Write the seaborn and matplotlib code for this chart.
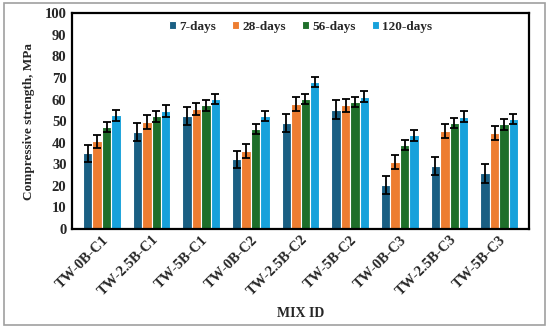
import matplotlib
matplotlib.use("Agg")
import matplotlib.pyplot as plt
import seaborn as sns
import pandas as pd
from matplotlib.patches import Rectangle

mixes = ["TW-0B-C1", "TW-2.5B-C1", "TW-5B-C1", "TW-0B-C2", "TW-2.5B-C2",
         "TW-5B-C2", "TW-0B-C3", "TW-2.5B-C3", "TW-5B-C3"]
ages = ["7-days", "28-days", "56-days", "120-days"]

days7 = [35.0, 45.0, 52.3, 32.3, 49.2, 55.2, 20.3, 29.3, 25.8]
days28 = [40.6, 49.5, 55.6, 36.1, 57.9, 57.3, 31.2, 45.5, 44.4]
days56 = [47.1, 52.2, 57.4, 46.3, 60.2, 58.7, 39.0, 49.1, 48.5]
days120 = [52.6, 54.5, 60.2, 52.2, 68.1, 61.3, 43.4, 52.0, 51.1]

err7 = [4.0, 4.2, 4.3, 4.0, 4.2, 4.4, 4.2, 4.2, 4.4]
err28 = [3.1, 3.3, 2.9, 3.3, 3.1, 3.0, 3.2, 3.3, 3.3]
err56 = [2.3, 2.6, 2.5, 2.5, 2.3, 2.3, 2.3, 2.4, 2.6]
err120 = [2.4, 2.8, 2.3, 2.3, 2.4, 2.6, 2.6, 2.6, 2.3]

colors = ["#1a5f83", "#ed7d31", "#1e6f2a", "#17a1db"]

rows = []
for age, vals, errs in zip(ages, [days7, days28, days56, days120],
                           [err7, err28, err56, err120]):
    for m, v, e in zip(mixes, vals, errs):
        rows.append({"mix": m, "age": age, "strength": v, "err": e})
df = pd.DataFrame(rows)

sns.set_style("white")
plt.rcParams["font.family"] = ["Liberation Serif", "DejaVu Serif"]
plt.rcParams["font.weight"] = "bold"

fig = plt.figure(figsize=(5.5, 3.3), dpi=100)
ax = fig.add_axes([0.131, 0.306, 0.831, 0.654])

sns.barplot(data=df, x="mix", y="strength", hue="age", order=mixes,
            hue_order=ages, palette=colors, width=0.76, errorbar=None,
            edgecolor="white", linewidth=0.8, saturation=1, ax=ax)

# error bars at the bar centres
for container, age in zip(ax.containers, ages):
    sub = df[df["age"] == age].set_index("mix").loc[mixes]
    xs = [p.get_x() + p.get_width() / 2 for p in container.patches]
    ax.errorbar(xs, sub["strength"], yerr=sub["err"], fmt="none",
                ecolor="black", elinewidth=1.3, capsize=2.8, capthick=1.3)

ax.set_ylim(0, 100)
ax.set_yticks(range(0, 101, 10))
ax.set_xlim(-0.6, 8.6)
ax.tick_params(axis="y", labelsize=10.5, length=0, pad=4)
ax.tick_params(axis="x", labelsize=10.5, length=0, pad=3)
plt.setp(ax.get_xticklabels(), rotation=45, ha="right",
         rotation_mode="anchor", fontweight="bold")
plt.setp(ax.get_yticklabels(), fontweight="bold")
for s in ax.spines.values():
    s.set_color("black")
    s.set_linewidth(1.6)

ax.set_xlabel("MIX ID", fontsize=10, fontweight="bold")
ax.xaxis.set_label_coords(0.5, -0.36)
ax.set_ylabel("Compressive strength, MPa", fontsize=9.5, fontweight="bold",
              labelpad=7)

ax.legend(loc="upper center", bbox_to_anchor=(0.5, 1.02), ncol=4,
          frameon=False, fontsize=9.5, handlelength=0.55, handleheight=0.55,
          handletextpad=0.25, columnspacing=1.2, borderaxespad=0.5)

fig.patches.append(Rectangle((0.008, 0.015), 0.982, 0.975,
                             transform=fig.transFigure, fill=False,
                             edgecolor="#a0a0a0", linewidth=1.2))

fig.savefig("out.png", dpi=100)
